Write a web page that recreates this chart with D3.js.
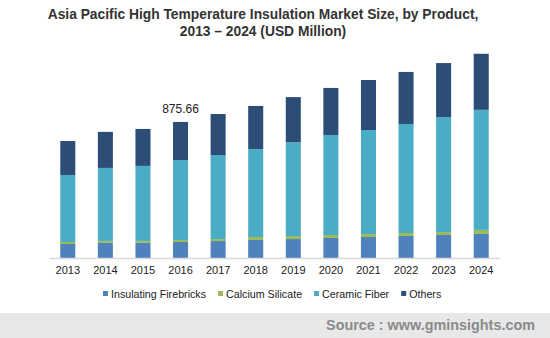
<!DOCTYPE html>
<html>
<head>
<meta charset="utf-8">
<script src="https://cdn.jsdelivr.net/npm/d3@7/dist/d3.min.js"></script>
<style>
  body { margin: 0; background: #fff; }
  svg { display: block; font-family: Arial, "Liberation Sans", sans-serif; }
</style>
</head>
<body>
<div id="chart"></div>
<script>
const years = ['2013', '2014', '2015', '2016', '2017', '2018', '2019', '2020', '2021', '2022', '2023', '2024'];
const seriesNames = ['Insulating Firebricks', 'Calcium Silicate', 'Ceramic Fiber', 'Others'];
const firebricks = [90, 97, 97, 103, 109, 116, 122, 129, 135, 142, 148, 155];
const calciumSilicate = [13, 13, 13, 13, 13, 19, 19, 19, 19, 19, 19, 26];
const ceramicFiber = [431, 470, 483, 515, 541, 567, 605, 644, 670, 702, 740, 773];
const others = [219, 232, 238, 245, 264, 277, 290, 303, 322, 335, 348, 361];
const colors = ['#4f81bd', '#9bbb59', '#4bacc6', '#2c4d76'];
const annotation = { year: '2016', text: '875.66' };

const width = 550;
const height = 338;
const margin = { top: 40, right: 50, bottom: 80, left: 49 };

const rows = years.map((y, i) => ({
  year: y,
  'Insulating Firebricks': firebricks[i],
  'Calcium Silicate': calciumSilicate[i],
  'Ceramic Fiber': ceramicFiber[i],
  'Others': others[i],
}));

const stacked = d3.stack().keys(seriesNames)(rows);

const svg = d3.select('#chart')
  .append('svg')
  .attr('width', width)
  .attr('height', height);

const x = d3.scaleBand()
  .domain(years)
  .range([margin.left, width - margin.right])
  .paddingInner(0.6)
  .paddingOuter(0.3);

// 875.66 sits 136px above the baseline
const y = d3.scaleLinear()
  .domain([0, 875.66 * 218 / 136])
  .range([height - margin.bottom, height - margin.bottom - 218]);

const color = d3.scaleOrdinal().domain(seriesNames).range(colors);

// title
svg.append('text')
  .attr('x', 263)
  .attr('y', 19)
  .attr('text-anchor', 'middle')
  .style('font-size', '13.8px')
  .style('font-weight', 'bold')
  .style('fill', '#333')
  .text('Asia Pacific High Temperature Insulation Market Size, by Product,');
svg.append('text')
  .attr('x', 263)
  .attr('y', 36)
  .attr('text-anchor', 'middle')
  .style('font-size', '13.8px')
  .style('font-weight', 'bold')
  .style('fill', '#333')
  .text('2013 – 2024 (USD Million)');

// bars
svg.append('g')
  .selectAll('g')
  .data(stacked)
  .join('g')
  .attr('fill', d => color(d.key))
  .selectAll('rect')
  .data(d => d)
  .join('rect')
  .attr('x', d => x(d.data.year))
  .attr('width', x.bandwidth())
  .attr('y', d => y(d[1]))
  .attr('height', d => y(d[0]) - y(d[1]));

// axis
const xAxis = svg.append('g')
  .attr('transform', `translate(0,${y(0)})`)
  .call(d3.axisBottom(x).tickSize(0).tickPadding(8).tickSizeOuter(0));
xAxis.select('.domain').attr('stroke', '#d9d9d9').attr('stroke-width', 1.5);
xAxis.selectAll('text')
  .style('font-size', '11px')
  .style('font-family', 'Arial, "Liberation Sans", sans-serif')
  .style('fill', '#222');

// value label
const lastTop = stacked[stacked.length - 1].find(d => d.data.year === annotation.year);
svg.append('text')
  .attr('x', x(annotation.year) + x.bandwidth() / 2)
  .attr('y', y(lastTop[1]) - 9)
  .attr('text-anchor', 'middle')
  .style('font-size', '12px')
  .style('fill', '#222')
  .text(annotation.text);

// legend
const legend = svg.append('g').attr('transform', 'translate(103,295)');
let lx = 0;
seriesNames.forEach((name, i) => {
  const item = legend.append('g').attr('transform', `translate(${lx},0)`);
  item.append('rect')
    .attr('x', 0)
    .attr('y', -4)
    .attr('width', 5)
    .attr('height', 5)
    .attr('fill', colors[i]);
  const t = item.append('text')
    .attr('x', 8)
    .attr('y', 3)
    .style('font-size', '10.7px')
    .style('fill', '#222')
    .text(name);
  lx += 8 + t.node().getComputedTextLength() + 12;
});

// source footer
svg.append('rect')
  .attr('x', 0)
  .attr('y', 313)
  .attr('width', width)
  .attr('height', height - 313)
  .attr('fill', '#e8e8e8');
svg.append('text')
  .attr('x', 535)
  .attr('y', 330)
  .attr('text-anchor', 'end')
  .style('font-size', '14.4px')
  .style('font-weight', 'bold')
  .style('fill', '#8a8a8a')
  .text('Source : www.gminsights.com');
</script>
</body>
</html>
